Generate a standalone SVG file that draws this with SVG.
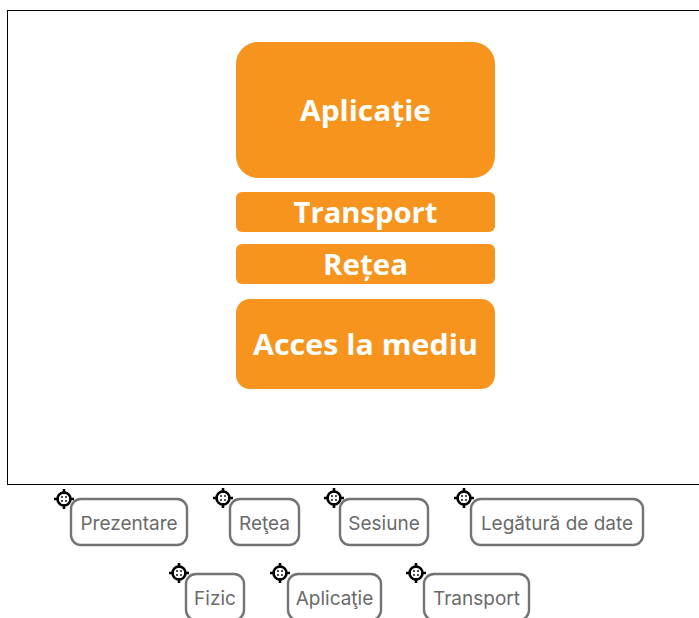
<svg xmlns="http://www.w3.org/2000/svg" width="699" height="618" viewBox="0 0 699 618">
<style>
.layer{fill:#F7941D}
.lt{fill:#fff;font-family:"Open Sans",Lato,sans-serif;font-weight:700;font-size:29px;text-anchor:middle}
.chip{fill:#fff;stroke:#737373;stroke-width:2.4}
.ct{fill:#6a6a6a;font-family:Inter,Roboto,sans-serif;font-size:19px;text-anchor:middle}
</style>
<defs>
<g id="xh">
<circle r="6.5" fill="none" stroke="#000" stroke-width="2.6"/>
<path d="M0-10V-5M0 5V10M-10 0H-5M5 0H10" stroke="#000" stroke-width="2.6"/>
<path d="M-2-2h0.01M2-2h0.01M-2 2h0.01M2 2h0.01" stroke="#000" stroke-width="1.8" stroke-linecap="round"/>
</g>
</defs>
<rect x="0" y="0" width="699" height="618" fill="#fff"/>
<rect x="7.5" y="10.5" width="700" height="474" fill="none" stroke="#000" stroke-width="1"/>
<g id="n-aplicatie"><rect class="layer" x="236" y="42" width="259" height="136" rx="22"/><text class="lt" x="365.5" y="121" textLength="131" lengthAdjust="spacingAndGlyphs">Aplicație</text></g>
<g id="n-transport"><rect class="layer" x="236" y="192" width="259" height="40" rx="6"/><text class="lt" x="365.5" y="223" textLength="144" lengthAdjust="spacingAndGlyphs">Transport</text></g>
<g id="n-retea"><rect class="layer" x="236" y="244" width="259" height="40" rx="6"/><text class="lt" x="365.5" y="275" textLength="85" lengthAdjust="spacingAndGlyphs">Rețea</text></g>
<g id="n-acces"><rect class="layer" x="236" y="299" width="259" height="90" rx="14"/><text class="lt" x="365.5" y="355" textLength="225" lengthAdjust="spacingAndGlyphs">Acces la mediu</text></g>
<g id="connectors"></g>
<g id="c-prezentare"><rect class="chip" x="71" y="499" width="116" height="46" rx="10"/><text class="ct" x="129" y="530">Prezentare</text><use href="#xh" x="64" y="499"/></g>
<g id="c-retea"><rect class="chip" x="230" y="499" width="69" height="46" rx="10"/><text class="ct" x="264.5" y="530">Reţea</text><use href="#xh" x="223" y="498"/></g>
<g id="c-sesiune"><rect class="chip" x="340" y="499" width="88" height="46" rx="10"/><text class="ct" x="384" y="530">Sesiune</text><use href="#xh" x="334" y="498"/></g>
<g id="c-legatura"><rect class="chip" x="471" y="499" width="172" height="46" rx="10"/><text class="ct" x="557" y="530">Legătură de date</text><use href="#xh" x="464" y="498"/></g>
<g id="c-fizic"><rect class="chip" x="186" y="574" width="58" height="46" rx="10"/><text class="ct" x="215" y="605">Fizic</text><use href="#xh" x="179" y="573"/></g>
<g id="c-aplicatie"><rect class="chip" x="288" y="574" width="93" height="46" rx="10"/><text class="ct" x="334.5" y="605">Aplicaţie</text><use href="#xh" x="280" y="573"/></g>
<g id="c-transport"><rect class="chip" x="424" y="574" width="105" height="46" rx="10"/><text class="ct" x="476.5" y="605">Transport</text><use href="#xh" x="416" y="573"/></g>
</svg>
